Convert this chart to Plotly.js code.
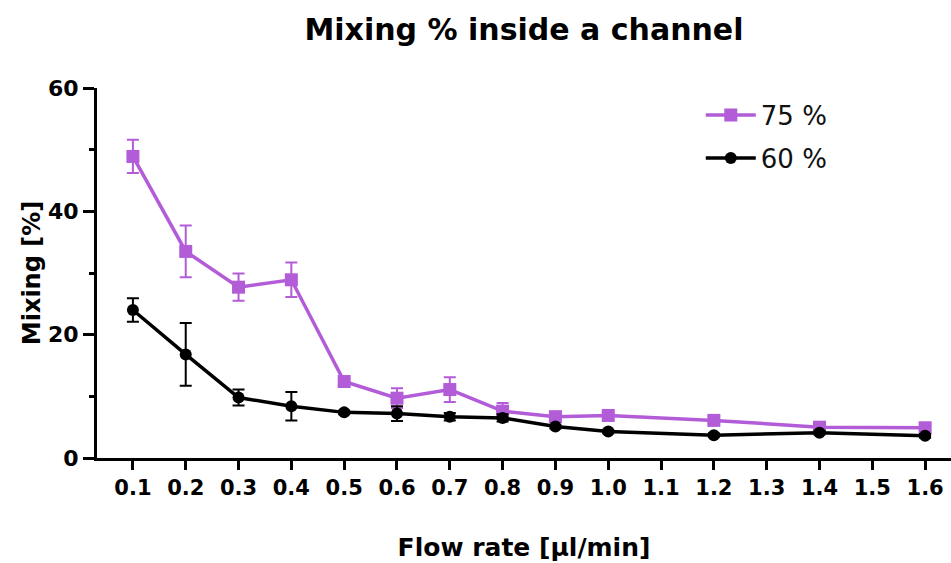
<!DOCTYPE html>
<html>
<head>
<meta charset="utf-8">
<script src="https://cdn.plot.ly/plotly-3.0.1.min.js"></script>
<style>html,body{margin:0;padding:0;background:#fff;}#chart{width:951px;height:563px;}</style>
</head>
<body>
<div id="chart"></div>
<script>
const flowRate = [0.1, 0.2, 0.3, 0.4, 0.5, 0.6, 0.7, 0.8, 0.9, 1.0, 1.2, 1.4, 1.6];
const mix75 = [48.9, 33.5, 27.7, 28.9, 12.4, 9.7, 11.1, 7.6, 6.7, 6.9, 6.1, 5.0, 4.9];
const err75 = [2.7, 4.2, 2.2, 2.8, 0.6, 1.6, 2.0, 1.3, 0.4, 0.4, 0.3, 0.3, 0.5];
const mix60 = [24.0, 16.8, 9.8, 8.4, 7.4, 7.2, 6.7, 6.5, 5.1, 4.3, 3.7, 4.1, 3.6];
const err60 = [1.9, 5.1, 1.3, 2.3, 0.3, 1.2, 0.6, 0.6, 0.3, 0.3, 0.3, 0.3, 0.3];
const xTicks = [0.1,0.2,0.3,0.4,0.5,0.6,0.7,0.8,0.9,1.0,1.1,1.2,1.3,1.4,1.5,1.6];
const yTicks = [0, 20, 40, 60];

const purple = '#B35CD8';
const traces = [
  {
    x: flowRate, y: mix75, name: '75 %', type: 'scatter', mode: 'lines+markers', legendgroup: 'a',
    line: {color: purple, width: 3.5},
    marker: {symbol: 'square', size: 13, color: purple},
    error_y: {type: 'data', array: err75, visible: true, color: purple, thickness: 2, width: 6}
  },
  {
    x: flowRate, y: mix60, name: '60 %', type: 'scatter', mode: 'lines+markers', legendgroup: 'b',
    line: {color: '#000000', width: 3.5},
    marker: {symbol: 'circle', size: 12, color: '#000000'},
    error_y: {type: 'data', array: err60, visible: true, color: '#000000', thickness: 2, width: 6}
  }
];

const layout = {
  width: 951, height: 563,
  margin: {l: 97, r: 0, t: 88, b: 105},
  paper_bgcolor: '#fff', plot_bgcolor: '#fff',
  font: {family: 'DejaVu Sans, sans-serif', color: '#000'},
  title: {text: '<b>Mixing % inside a channel</b>', font: {size: 30, color: '#000'}, x: 0.5, xref: 'paper', y: 0.947, yanchor: 'middle', yref: 'container'},
  showlegend: true,
  legend: {x: 0.707, y: 0.99, xanchor: 'left', yanchor: 'top', font: {size: 26, color: '#111'}, bgcolor: 'rgba(0,0,0,0)', traceorder: 'grouped', tracegroupgap: 6, itemwidth: 50},
  xaxis: {
    range: [0.032, 1.649], tickvals: xTicks, ticktext: xTicks.map(v => '<b>' + v.toFixed(1) + '</b>'),
    showgrid: false, zeroline: false, showline: true, linecolor: '#000', linewidth: 3,
    ticks: 'outside', ticklen: 9, tickwidth: 3, tickcolor: '#000',
    tickfont: {size: 21, color: '#000'},
    title: {text: '<b>Flow rate [µl/min]</b>', font: {size: 25, color: '#000'}, standoff: 40}
  },
  yaxis: {
    range: [0, 60], tickvals: yTicks, ticktext: yTicks.map(v => '<b>' + v + '</b>'),
    showgrid: false, zeroline: false, showline: true, linecolor: '#000', linewidth: 3,
    ticks: 'outside', ticklen: 11, tickwidth: 3, tickcolor: '#000',
    minor: {tickvals: [10, 30, 50], ticks: 'outside', ticklen: 5, tickwidth: 3, tickcolor: '#000', showgrid: false},
    tickfont: {size: 22, color: '#000'},
    title: {text: '<b>Mixing [%]</b>', font: {size: 24, color: '#000'}, standoff: 1}
  }
};

Plotly.newPlot('chart', traces, layout, {displayModeBar: false, staticPlot: true});
</script>
</body>
</html>
